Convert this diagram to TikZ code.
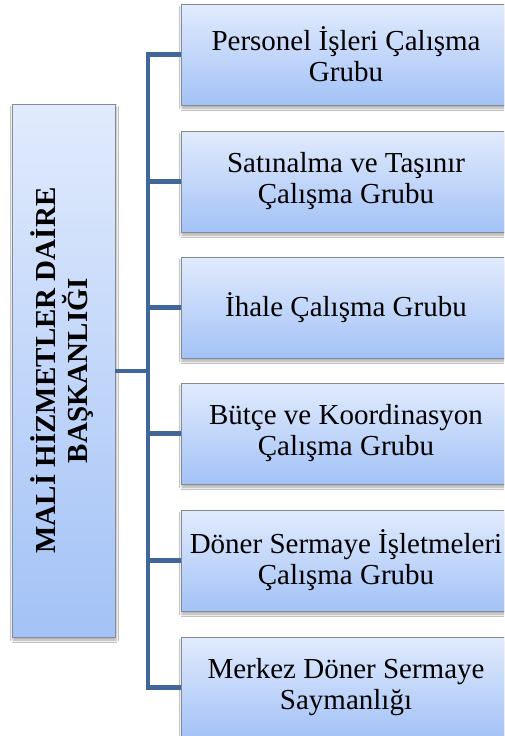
\documentclass[tikz,border=0pt]{standalone}
\usepackage{fontspec}
\setmainfont{Liberation Serif}
\usetikzlibrary{shadows.blur}
\definecolor{boxtop}{HTML}{E1EBFD}
\definecolor{boxbot}{HTML}{A3C2F6}
\definecolor{boxline}{HTML}{858B94}
\definecolor{connc}{HTML}{41679A}
\tikzset{
  unitbox/.style={draw=boxline, line width=0.8pt, top color=boxtop, bottom color=boxbot,
    minimum width=330pt, minimum height=101pt, inner sep=0pt, align=center,
    font=\fontsize{29}{31}\selectfont,
    blur shadow={shadow xshift=1pt, shadow yshift=-3pt, shadow blur radius=2.5pt, shadow opacity=35}},
  leadbox/.style={draw=boxline, line width=0.8pt, top color=boxtop, bottom color=boxbot,
    minimum width=103pt, minimum height=533pt, inner sep=0pt,
    blur shadow={shadow xshift=1pt, shadow yshift=-3pt, shadow blur radius=2.5pt, shadow opacity=35}},
  conn/.style={draw=connc, line width=4.5pt, line join=miter}
}
\begin{document}
\begin{tikzpicture}[x=1pt,y=-1pt]
\useasboundingbox (0,0) rectangle (504,736);
\fill[white] (0,0) rectangle (504,736);
\begin{scope}
\clip (0,0) rectangle (504,736);
\coordinate (bt) at (148,54.5);
\node[leadbox] (lead) at (63.5,370.5) {\rotatebox{90}{\fontsize{29}{30}\selectfont\bfseries\begin{tabular}{@{}c@{}}MALİ HİZMETLER DAİRE\\[-2pt]BAŞKANLIĞI\end{tabular}}};
\node[unitbox] (b1) at (346,54.5) {Personel İşleri Çalışma\\Grubu};
\node[unitbox] (b2) at (346,181.5) {Satınalma ve Taşınır\\Çalışma Grubu};
\node[unitbox] (b3) at (346,307.5) {İhale Çalışma Grubu};
\node[unitbox] (b4) at (346,433.5) {Bütçe ve Koordinasyon\\Çalışma Grubu};
\node[unitbox] (b5) at (346,560.5) {Döner Sermaye İşletmeleri\\Çalışma Grubu};
\node[unitbox] (b6) at (346,687.5) {Merkez Döner Sermaye\\Saymanlığı};
\draw[conn] (b1.west) -- (b1.west -| bt) -- (b6.west -| bt) -- (b6.west);
\draw[conn] (lead.east |- 0,371) -- (bt |- 0,371);
\foreach \b in {b2,b3,b4,b5}{\draw[conn] (\b.west) -- (\b.west -| bt);}
\end{scope}
\end{tikzpicture}
\end{document}
